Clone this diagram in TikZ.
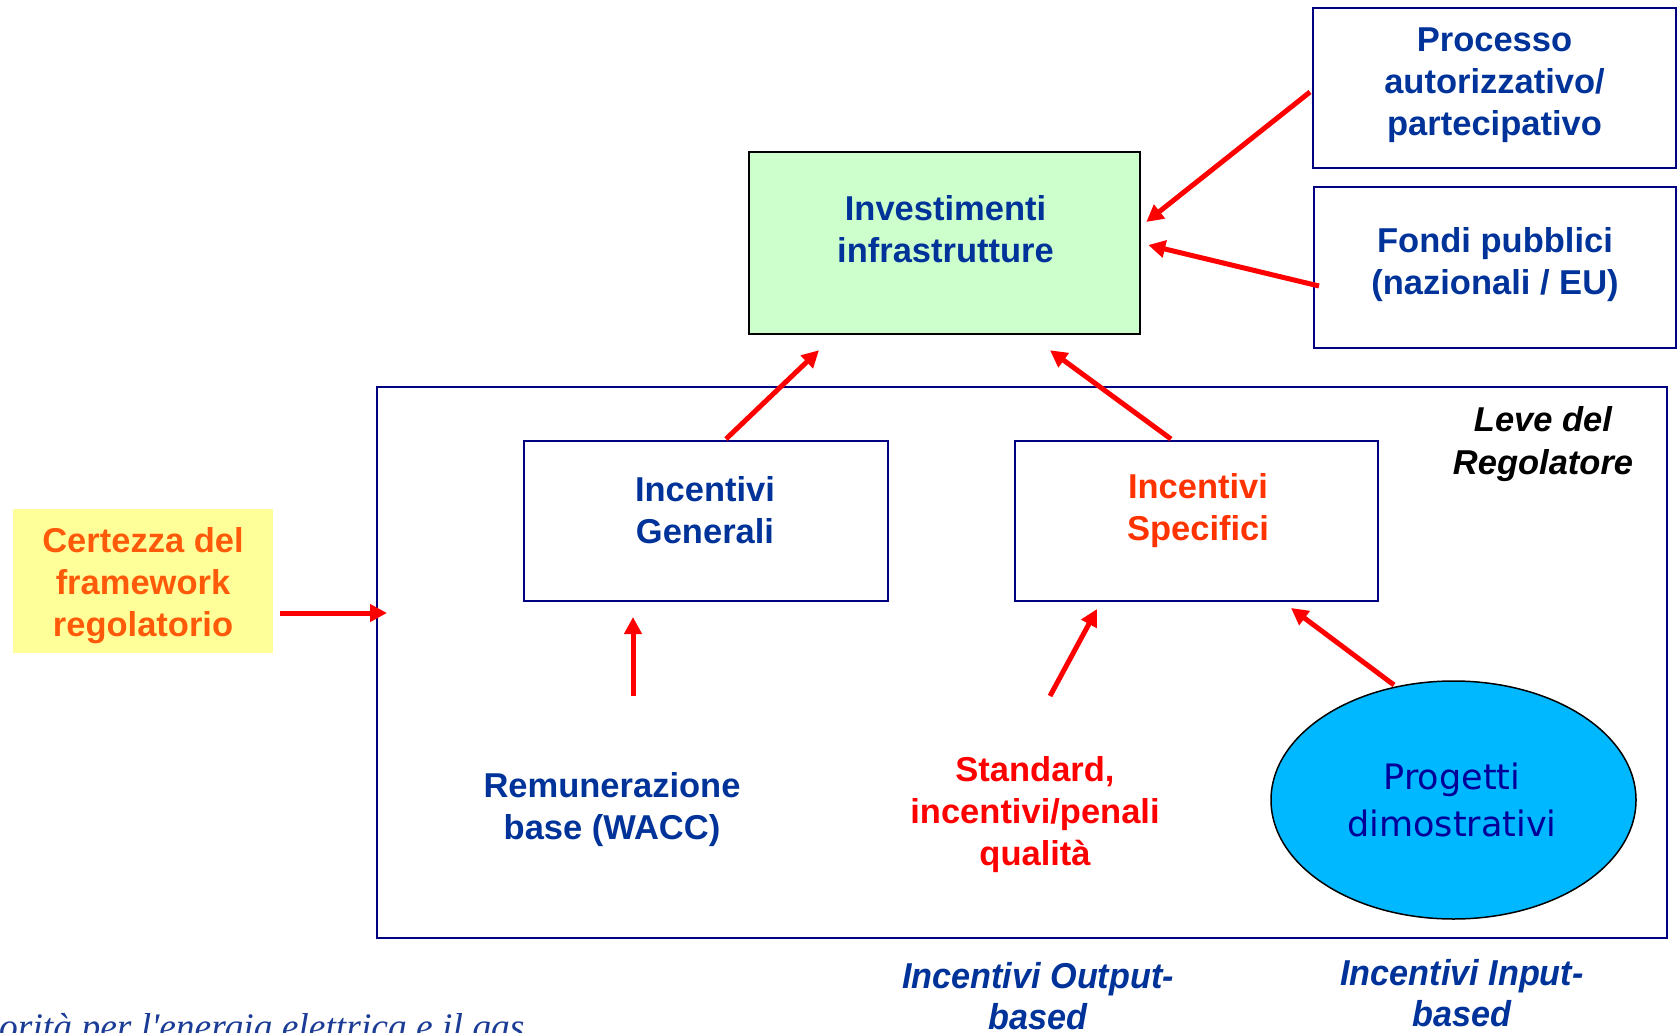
\documentclass[tikz,border=0pt]{standalone}
\usepackage{fontspec}
\setmainfont{Liberation Sans}
\newfontfamily\narrowfont[FakeStretch=0.95]{Liberation Sans}
\newfontfamily\ellfont{DejaVu Sans}
\newfontfamily\footfont{Liberation Serif}
\usetikzlibrary{arrows.meta,shapes.geometric}
\definecolor{txtblue}{HTML}{003399}
\definecolor{boxblue}{HTML}{000080}
\definecolor{ellblue}{HTML}{00B8FF}
\definecolor{elltxt}{HTML}{000099}
\definecolor{greenfill}{HTML}{CCFFCC}
\definecolor{yellowfill}{HTML}{FFFF99}
\definecolor{orangetxt}{HTML}{FF5A0A}
\definecolor{spectxt}{HTML}{FF3300}
\definecolor{footblue}{HTML}{1A3C96}
\begin{document}
\begin{tikzpicture}[x=1pt,y=-1pt,
  bluebox/.style={draw=boxblue,line width=2pt,inner sep=0pt},
  lbl/.style={align=center,inner sep=0pt,font=\fontsize{34.5}{42}\selectfont\bfseries},
  narrowlbl/.style={align=center,inner sep=0pt,text=txtblue,font=\narrowfont\fontsize{36}{41}\selectfont\bfseries\itshape},
  arr/.style={draw=red,line width=5pt,-{Triangle[length=17pt,width=17pt]}}]
\useasboundingbox (0,0) rectangle (1678,1033);
\fill[white] (0,0) rectangle (1678,1033);

% boxes
\node[draw=black,line width=2.5pt,fill=greenfill,minimum width=391pt,minimum height=182pt,inner sep=0pt] (inv) at (944.5,243) {};
\node[bluebox,minimum width=363pt,minimum height=160pt] (proc) at (1494.5,88) {};
\node[bluebox,minimum width=362pt,minimum height=161pt] (fondi) at (1495,267.5) {};
\node[bluebox,minimum width=1290pt,minimum height=551pt] (frame) at (1022,662.5) {};
\node[bluebox,minimum width=364pt,minimum height=160pt] (gen) at (706,521) {};
\node[bluebox,minimum width=363pt,minimum height=160pt] (spec) at (1196.5,521) {};
\node[fill=yellowfill,minimum width=260pt,minimum height=144pt,inner sep=0pt] (cert) at (143,581) {};
\node[ellipse,draw=black,line width=1.5pt,fill=ellblue,minimum width=365pt,minimum height=238pt,inner sep=0pt] (prog) at (1453.5,800) {};

% texts
\node[lbl,text=txtblue] (invt) at (945.5,229) {Investimenti\\infrastrutture};
\node[lbl,text=txtblue] (proct) at (1494.5,85.5) {Processo\\autorizzativo/\\partecipativo};
\node[lbl,text=txtblue] (fondit) at (1495,264.5) {Fondi pubblici\\(nazionali / EU)};
\node[lbl,text=txtblue] (gent) at (705,510) {Incentivi\\Generali};
\node[lbl,text=spectxt] (spect) at (1198,511) {Incentivi\\Specifici};
\node[lbl,text=orangetxt] (certt) at (143,585.5) {Certezza del\\framework\\regolatorio};
\node[lbl,text=black,font=\fontsize{34.5}{43}\selectfont\bfseries\itshape] (leve) at (1543,444.5) {Leve del\\Regolatore};
\node[lbl,text=txtblue] (wacc) at (612,810) {Remunerazione\\base (WACC)};
\node[lbl,text=red] (std) at (1035,815) {Standard,\\incentivi/penali\\qualità};
\node[align=center,inner sep=0pt,text=elltxt,font=\ellfont\fontsize{35}{47}\selectfont] (progt) at (1452,800) {Progetti\\dimostrativi};
\node[narrowlbl] (outb) at (1038,996) {Incentivi Output-\\based};
\node[narrowlbl] (inpb) at (1462,993) {Incentivi Input-\\based};
\node[anchor=base west,inner sep=0pt,text=footblue,font=\footfont\fontsize{37.5}{40}\selectfont\itshape] (foot) at (-1,1039) {orità per l'energia elettrica e il gas};

% arrows
\draw[arr] ([shift={(-2,4)}]proc.west) -- ([shift={(5,-21)}]inv.east);
\draw[arr] ([shift={(6,18.5)}]fondi.west) -- ([shift={(7,2)}]inv.east);
\draw[arr] ([shift={(20,-1)}]gen.north) -- ([shift={(-125.5,15)}]inv.south);
\draw[arr] ([shift={(-25.5,-1)}]spec.north) -- ([shift={(105.5,15)}]inv.south);
\draw[arr] ([shift={(21,-114)}]wacc.center) -- ([shift={(-73,15)}]gen.south);
\draw[arr] ([shift={(15,-119)}]std.center) -- ([shift={(-99.5,7)}]spec.south);
\draw[arr] ([shift={(-59.5,-115)}]prog.center) -- ([shift={(94.5,6)}]spec.south);
\draw[arr] ([shift={(137,32)}]cert.center) -- ([shift={(11,-49.5)}]frame.west);
\end{tikzpicture}
\end{document}
